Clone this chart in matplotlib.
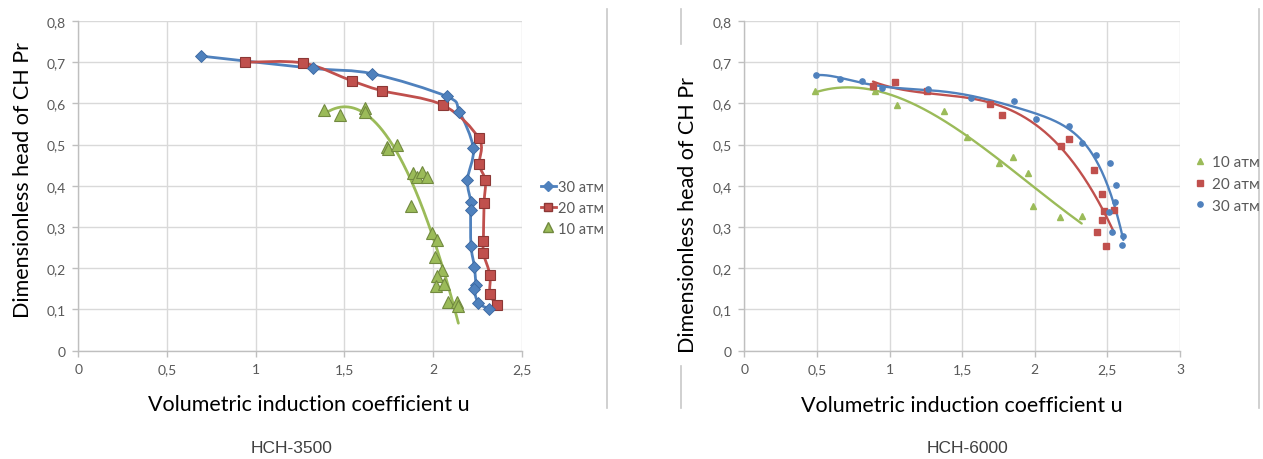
import numpy as np
import matplotlib
matplotlib.use("Agg")
import matplotlib.pyplot as plt
from matplotlib.path import Path
from matplotlib.patches import PathPatch
from matplotlib.lines import Line2D

# ---------------- data: HCH-3500 ----------------
u3500_30 = [0.690, 1.325, 1.658, 2.077, 2.149, 2.227, 2.194, 2.214, 2.212, 2.214,
            2.233, 2.241, 2.231, 2.256, 2.318]
h3500_30 = [0.715, 0.685, 0.672, 0.617, 0.580, 0.491, 0.414, 0.360, 0.341, 0.255,
            0.204, 0.159, 0.150, 0.116, 0.101]

u3500_20 = [0.942, 1.269, 1.541, 1.711, 2.055, 2.259, 2.261, 2.295, 2.288, 2.284,
            2.284, 2.321, 2.321, 2.359]
h3500_20 = [0.700, 0.698, 0.655, 0.631, 0.596, 0.515, 0.452, 0.413, 0.358, 0.266,
            0.236, 0.184, 0.138, 0.111]

u3500_10 = [1.387, 1.476, 1.617, 1.617, 1.742, 1.748, 1.795, 1.889, 1.912, 1.936,
            1.964, 1.874, 1.992, 2.024, 2.011, 2.053, 2.021, 2.017, 2.064, 2.086,
            2.133, 2.143]
h3500_10 = [0.585, 0.572, 0.588, 0.580, 0.494, 0.490, 0.499, 0.431, 0.422, 0.433,
            0.421, 0.352, 0.286, 0.269, 0.227, 0.196, 0.182, 0.156, 0.162, 0.117,
            0.117, 0.108]

# ---------------- data: HCH-6000 ----------------
u6000_10 = [0.484, 0.897, 1.054, 1.377, 1.531, 1.756, 1.852, 1.956, 1.985, 2.174, 2.323]
h6000_10 = [0.630, 0.631, 0.596, 0.581, 0.518, 0.455, 0.469, 0.431, 0.352, 0.325, 0.328]

u6000_20 = [0.886, 1.037, 1.260, 1.692, 1.772, 2.181, 2.238, 2.410, 2.461, 2.477,
            2.463, 2.426, 2.548, 2.488]
h6000_20 = [0.643, 0.651, 0.629, 0.599, 0.571, 0.496, 0.514, 0.439, 0.380, 0.340,
            0.316, 0.289, 0.342, 0.254]

u6000_30 = [0.496, 0.659, 0.813, 0.948, 1.267, 1.559, 1.857, 2.008, 2.238, 2.323,
            2.419, 2.518, 2.559, 2.552, 2.513, 2.534, 2.610, 2.598]
h6000_30 = [0.669, 0.660, 0.654, 0.638, 0.635, 0.613, 0.605, 0.562, 0.545, 0.503,
            0.476, 0.456, 0.401, 0.362, 0.336, 0.287, 0.279, 0.257]

labels = ["10 атм", "20 атм", "30 атм"]
yticks = [0, 0.1, 0.2, 0.3, 0.4, 0.5, 0.6, 0.7, 0.8]
xticks_3500 = [0, 0.5, 1, 1.5, 2, 2.5]
xticks_6000 = [0, 0.5, 1, 1.5, 2, 2.5, 3]

BLUE = "#4F81BD"
RED = "#C0504D"
GREEN = "#9BBB59"
TICK_COL = "#595959"
GRID_COL = "#D9D9D9"
AXIS_COL = "#BFBFBF"
CAL = ["Lato", "DejaVu Sans"]


def fmt(v):
    s = ("%g" % v)
    return s.replace(".", ",")


def smooth_line(ax, xs, ys, color, lw=2.0, z=2):
    """Smoothed scatter line (Bezier through points, Catmull-Rom tangents)."""
    p = np.column_stack([xs, ys]).astype(float)
    # work in display space so the tension looks uniform
    d = ax.transData.transform(p)
    verts = [d[0]]
    codes = [Path.MOVETO]
    n = len(d)
    for i in range(n - 1):
        p0 = d[i - 1] if i > 0 else d[i]
        p1 = d[i]
        p2 = d[i + 1]
        p3 = d[i + 2] if i + 2 < n else d[i + 1]
        c1 = p1 + (p2 - p0) / 6.0
        c2 = p2 - (p3 - p1) / 6.0
        verts += [c1, c2, p2]
        codes += [Path.CURVE4] * 3
    verts = ax.transData.inverted().transform(np.array(verts))
    patch = PathPatch(Path(verts, codes), facecolor="none", edgecolor=color,
                      lw=lw, zorder=z, capstyle="round", joinstyle="round")
    ax.add_patch(patch)


def trend(ax, xs, ys, deg, color, lw=1.7):
    """Polynomial trend line over the span of the series."""
    c = np.polyfit(xs, ys, deg)
    xx = np.linspace(min(xs), max(xs), 300)
    ax.plot(xx, np.polyval(c, xx), color=color, lw=lw, zorder=2,
            solid_capstyle="round")


def style_axes(ax, xticks, xmax):
    ax.set_xlim(0, xmax)
    ax.set_ylim(0, 0.8)
    ax.set_xticks(xticks)
    ax.set_yticks(yticks)
    ax.set_xticklabels([fmt(v) for v in xticks])
    ax.set_yticklabels([fmt(v) for v in yticks])
    ax.grid(True, color=GRID_COL, lw=1.0)
    ax.set_axisbelow(True)
    for s in ("top", "right"):
        ax.spines[s].set_visible(False)
    for s in ("left", "bottom"):
        ax.spines[s].set_color(AXIS_COL)
        ax.spines[s].set_linewidth(1.0)
    ax.tick_params(axis="both", colors=AXIS_COL, labelcolor=TICK_COL,
                   length=4, width=1.0, labelsize=10, pad=5)
    for t in ax.get_xticklabels() + ax.get_yticklabels():
        t.set_family(CAL)


fig = plt.figure(figsize=(12.63, 4.60), dpi=100)
W, H = 1263.0, 460.0

# ---------- left panel: HCH-3500 ----------
ax1 = fig.add_axes([78.3 / W, 1 - 351.7 / H, 443.4 / W, 329.7 / H])
style_axes(ax1, xticks_3500, 2.5)
fig.canvas.draw()

smooth_line(ax1, u3500_30, h3500_30, BLUE)
smooth_line(ax1, u3500_20, h3500_20, RED)
trend(ax1, u3500_10, h3500_10, 2, GREEN, lw=2.0)

ax1.plot(u3500_10, h3500_10, ls="none", marker="^", ms=8, mfc=GREEN,
         mec="#71893F", mew=0.8, zorder=3)
ax1.plot(u3500_20, h3500_20, ls="none", marker="s", ms=7.5, mfc=RED,
         mec="#8C3836", mew=0.8, zorder=4)
ax1.plot(u3500_30, h3500_30, ls="none", marker="D", ms=6.5, mfc=BLUE,
         mec="#3A67A0", mew=0.6, zorder=5)

h1 = [Line2D([], [], color=BLUE, lw=2, marker="D", ms=5, mfc=BLUE, mec=BLUE),
      Line2D([], [], color=RED, lw=2, marker="s", ms=6, mfc=RED, mec="#8C3836"),
      Line2D([], [], ls="none", marker="^", ms=7, mfc=GREEN, mec="#71893F")]
fig.legend(h1, [labels[2], labels[1], labels[0]], loc="center left",
           bbox_to_anchor=(541 / W, 1 - 209 / H), frameon=False,
           handlelength=1.0, handletextpad=0.15, labelspacing=0.45,
           prop={"family": CAL, "size": 10.5}, labelcolor=TICK_COL,
           borderaxespad=0, borderpad=0)

# ---------- right panel: HCH-6000 ----------
ax2 = fig.add_axes([744.3 / W, 1 - 351.7 / H, 435.7 / W, 329.7 / H])
style_axes(ax2, xticks_6000, 3)

trend(ax2, u6000_10, h6000_10, 3, GREEN)
trend(ax2, u6000_20, h6000_20, 3, RED)
trend(ax2, u6000_30, h6000_30, 6, BLUE)

ax2.plot(u6000_10, h6000_10, ls="none", marker="^", ms=4.5, mfc=GREEN,
         mec=GREEN, zorder=3)
ax2.plot(u6000_20, h6000_20, ls="none", marker="s", ms=5, mfc=RED,
         mec=RED, zorder=4)
ax2.plot(u6000_30, h6000_30, ls="none", marker="o", ms=3.8, mfc=BLUE,
         mec=BLUE, zorder=5)

h2 = [Line2D([], [], ls="none", marker="^", ms=4.5, mfc=GREEN, mec=GREEN),
      Line2D([], [], ls="none", marker="s", ms=5, mfc=RED, mec=RED),
      Line2D([], [], ls="none", marker="o", ms=3.8, mfc=BLUE, mec=BLUE)]
fig.legend(h2, labels, loc="center left",
           bbox_to_anchor=(1194 / W, 1 - 185 / H), frameon=False,
           handlelength=0.8, handletextpad=0.4, labelspacing=0.5,
           prop={"family": CAL, "size": 11}, labelcolor=TICK_COL,
           borderaxespad=0, borderpad=0)

# ---------- axis titles and captions ----------
lab_kw = dict(family=CAL, fontsize=15.5, color="black")
fig.text(309 / W, 1 - 405 / H, "Volumetric induction coefficient u",
         ha="center", va="center", **lab_kw)
fig.text(962 / W, 1 - 406 / H, "Volumetric induction coefficient u",
         ha="center", va="center", **lab_kw)
fig.text(23 / W, 1 - 180 / H, "Dimensionless head of CH Pr", rotation=90,
         ha="center", va="center", **lab_kw)
fig.text(688 / W, 1 - 215 / H, "Dimensionless head of CH Pr", rotation=90,
         ha="center", va="center", **lab_kw)

cap_kw = dict(family=["Liberation Sans", "DejaVu Sans"], fontsize=12.5,
              color="#404040", ha="center", va="center")
fig.text(292 / W, 1 - 449 / H, "HCH-3500", **cap_kw)
fig.text(967 / W, 1 - 449 / H, "HCH-6000", **cap_kw)

# ---------- panel frame lines ----------
def vline(x, y0, y1):
    fig.add_artist(Line2D([x / W, x / W], [1 - y0 / H, 1 - y1 / H],
                          color="#C8C8C8", lw=1.2, transform=fig.transFigure))

vline(607, 10, 409)
vline(680.5, 10, 45)
vline(680.5, 367, 409)
vline(1259, 10, 409)

fig.savefig("out.png", dpi=100, facecolor="white")
